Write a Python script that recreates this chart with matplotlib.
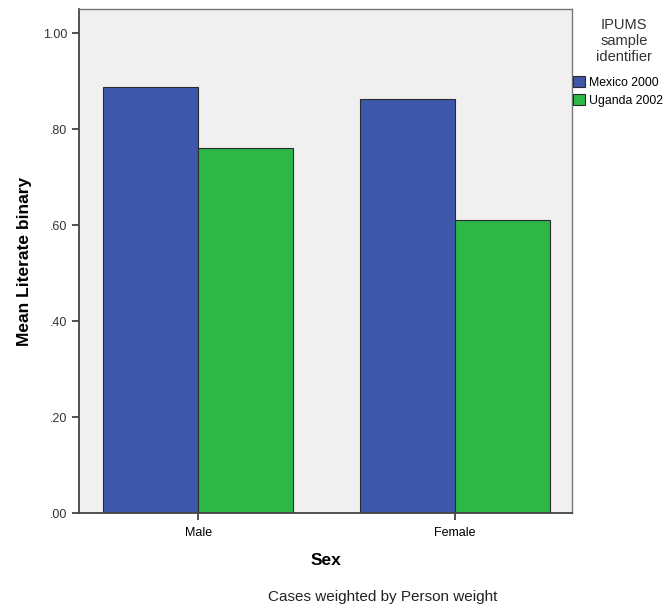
import numpy as np
import matplotlib
matplotlib.use('Agg')
import matplotlib.pyplot as plt
from matplotlib.patches import Patch

plt.rcParams['font.family'] = ['Liberation Sans', 'DejaVu Sans']

sexes = ['Male', 'Female']
samples = ['Mexico 2000', 'Uganda 2002']
mexico = [0.888, 0.862]
uganda = [0.760, 0.610]
colors = ['#3D57AB', '#2DB747']
yticks = [0.0, 0.2, 0.4, 0.6, 0.8, 1.0]
ytick_labels = ['.00', '.20', '.40', '.60', '.80', '1.00']

fig = plt.figure(figsize=(6.69, 6.10), dpi=100)
ax = fig.add_axes([0.118, 0.159, 0.737, 0.826])
ax.set_facecolor('#F0F0F0')

x = np.arange(len(sexes))
w = 0.37
ax.bar(x - w / 2, mexico, w, color=colors[0], edgecolor='#2a2a2a', linewidth=0.8)
ax.bar(x + w / 2, uganda, w, color=colors[1], edgecolor='#2a2a2a', linewidth=0.8)

ax.set_xlim(-0.465, 1.456)
ax.set_ylim(0, 1.05)
ax.set_xticks(x)
ax.set_xticklabels(sexes, fontsize=9)
ax.set_yticks(yticks)
ax.set_yticklabels(ytick_labels, fontsize=9, color='#333333')
ax.tick_params(axis='both', direction='out', length=5, width=1.2, color='#333333')
ax.tick_params(axis='x', pad=5)

for s in ax.spines.values():
    s.set_color('#777777')
    s.set_linewidth(1.0)
ax.spines['left'].set_color('#444444')
ax.spines['bottom'].set_color('#444444')
ax.spines['left'].set_linewidth(1.3)
ax.spines['bottom'].set_linewidth(1.3)

ax.set_ylabel('Mean Literate binary', fontsize=12.5, fontweight='bold', labelpad=8)
ax.set_xlabel('Sex', fontsize=12.5, fontweight='bold', labelpad=10)

fig.text(0.572, 0.0215, 'Cases weighted by Person weight', fontsize=11, ha='center', va='center', color='#222222')

# legend title drawn separately so the gap to the entries matches
fig.text(0.933, 0.970, 'IPUMS\nsample\nidentifier', fontsize=10.5, ha='center', va='top',
         multialignment='center', color='#333333', linespacing=1.15)
handles = [Patch(facecolor=c, edgecolor='#2a2a2a', linewidth=0.8) for c in colors]
leg = fig.legend(handles, samples, loc='upper left', bbox_to_anchor=(0.856, 0.875),
                 frameon=False, fontsize=8.8, borderpad=0, borderaxespad=0, handlelength=1.0,
                 handleheight=0.95, handletextpad=0.3, labelspacing=0.45)

fig.savefig('out.png', dpi=100)
